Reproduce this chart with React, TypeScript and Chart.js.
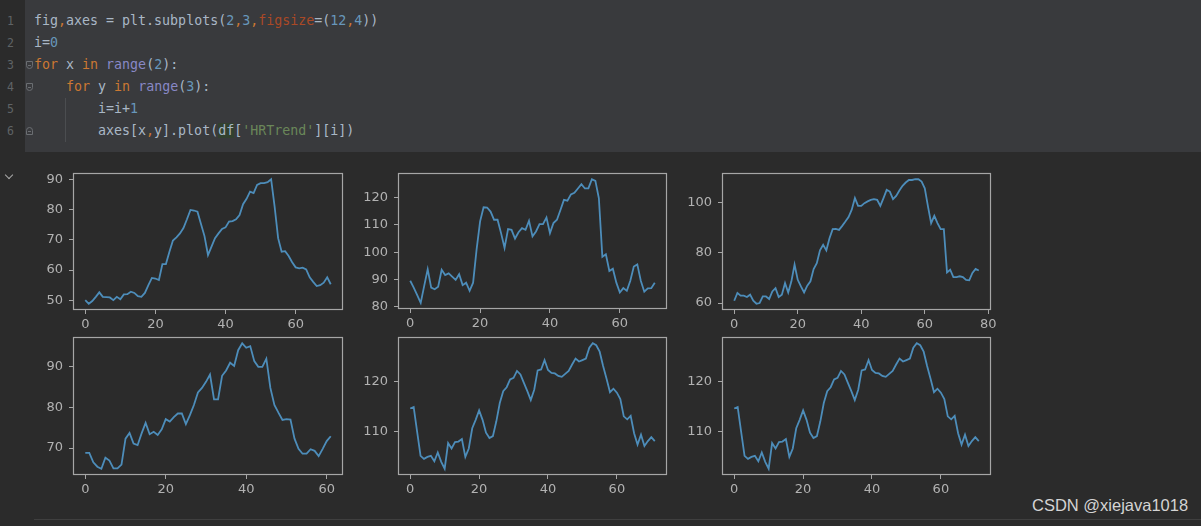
import React, { useEffect, useRef } from "react";
import { Chart, registerables } from "chart.js";

Chart.register(...registerables);

// ---------- data ----------
const hr1 = [50, 48.8, 49.7, 51.1, 52.6, 51.1, 51, 50.9, 50, 51.1, 50.3, 51.9, 52, 52.8, 52.4, 51.3, 51.1, 52.4, 55, 57.4, 57.2, 56.7, 62, 62, 66.1, 69.8, 70.9, 72.2, 74, 76.9, 80, 79.8, 79.4, 75.3, 71.3, 65, 67.8, 70.6, 72.2, 73.7, 74.2, 76.1, 76.3, 76.9, 78.3, 81.9, 83.7, 86.1, 85.6, 88.3, 88.9, 88.9, 89.2, 90.2, 81.1, 70.6, 66.1, 66.3, 64.7, 62.6, 60.9, 60.6, 60.8, 60.2, 57.6, 56.1, 54.7, 55, 55.8, 57.6, 55.3];
const hr2 = [89.5, 87, 84.2, 81.4, 87.6, 93.7, 87, 86.4, 87.3, 93.5, 91.6, 92.2, 91, 89.8, 91.9, 87.9, 88.8, 85.8, 88.8, 101, 111.3, 116.5, 116.4, 114.9, 111.9, 111.9, 107, 101.6, 108.5, 108.2, 105, 107.3, 108.8, 108.2, 111.5, 105.8, 107.6, 110.3, 110.3, 112.7, 107, 110.7, 111.9, 115.5, 119.2, 118.9, 121.2, 121.8, 123.4, 125, 123.4, 123.4, 126.8, 126.2, 119.8, 98.3, 99.2, 93.1, 93.9, 88.8, 85.2, 86.8, 85.8, 89.5, 94.7, 95.5, 89.5, 85.5, 86.7, 86.8, 88.8];
const hr3 = [60.9, 64, 62.9, 62.9, 62.4, 63.3, 60.9, 59.7, 60, 62.6, 62.6, 61.6, 64.6, 65.9, 62.4, 63.3, 67.9, 64.2, 68.6, 75.2, 69.2, 66.6, 64.2, 66.9, 68.6, 73.5, 75.8, 80.9, 83.1, 80.9, 85.7, 89.3, 89.4, 89, 90.6, 92.3, 94.1, 97, 101.6, 98.5, 98.5, 99.6, 100.3, 100.9, 101.2, 100.9, 98.5, 101.6, 104.9, 104.2, 101.2, 102.5, 104.6, 106.5, 107.8, 108.8, 108.8, 109.1, 109.1, 108.2, 105.5, 98.3, 91.7, 94.6, 91.7, 89.3, 89.3, 72.1, 73.2, 70.3, 70.3, 70.6, 70.3, 69.2, 69, 71.9, 73.5, 72.9];
const hr4 = [68.8, 68.8, 66.5, 65.4, 64.9, 67.6, 66.9, 65, 65, 65.9, 72.3, 73.7, 71.1, 70.7, 73.6, 76.2, 73.4, 74, 73.2, 74.6, 77.1, 76.5, 77.6, 78.5, 78.5, 75.9, 78.1, 80.6, 83.7, 84.8, 86.3, 88.1, 82, 82, 87.8, 89.1, 91, 90.2, 94.1, 95.8, 94.7, 95.1, 91.4, 90, 90, 92, 84.8, 80.6, 78.7, 76.9, 77.1, 77, 72.3, 69.8, 68.6, 68.6, 69.7, 69.3, 68, 69.8, 71.7, 72.9];
const hr5 = [114.6, 114.9, 109.9, 105, 104.4, 104.8, 105, 103.9, 105.7, 103.8, 102.4, 107.6, 106.5, 107.8, 107.9, 108.4, 104.8, 106.5, 110.6, 112.3, 114.2, 112.3, 109.7, 108.6, 109, 112, 115.7, 118.1, 118.9, 120.5, 120.8, 122.2, 121.5, 119.8, 118.1, 116.3, 118.4, 122.3, 122.5, 124.4, 122.4, 121.8, 121.7, 121.2, 121, 121.6, 122.2, 123.5, 124.7, 124.1, 124.4, 124.7, 126.9, 127.8, 127.4, 126.1, 123.2, 120.6, 117.9, 118.6, 117.8, 116.5, 113, 112.4, 113.1, 109.6, 107.3, 109.3, 107, 108, 108.8, 108];
const hr6 = hr5;

const xTicks1 = [0, 20, 40, 60];
const xTicks2 = [0, 20, 40, 60];
const xTicks3 = [0, 20, 40, 60, 80];
const xTicks4 = [0, 20, 40, 60];
const xTicks5 = [0, 20, 40, 60];
const xTicks6 = [0, 20, 40, 60];

const yTicks1 = [50, 60, 70, 80, 90];
const yTicks2 = [80, 90, 100, 110, 120];
const yTicks3 = [60, 80, 100];
const yTicks4 = [70, 80, 90];
const yTicks5 = [110, 120];
const yTicks6 = [110, 120];

// ---------- styles ----------
const BG = "#2b2b2b";
const LINE = "#4d8dba";
const FRAME = "#a6a6a6";
const TICKTXT = "#b2b2b2";

const framePlugin = {
  id: "frame",
  afterDraw(chart: any) {
    const { ctx, chartArea } = chart;
    ctx.save();
    ctx.strokeStyle = FRAME;
    ctx.lineWidth = 1.2;
    ctx.strokeRect(
      Math.round(chartArea.left) + 0.5,
      Math.round(chartArea.top) + 0.5,
      Math.round(chartArea.right - chartArea.left) - 1,
      Math.round(chartArea.bottom - chartArea.top) - 1
    );
    ctx.restore();
  },
};

const PADL = 50;
const PADT = 20;
const PADR = 20;
const PADB = 28;

function MiniChart(props: {
  fx: number; fy: number; fw: number; fh: number;
  data: number[]; xTicks: number[]; yTicks: number[];
}) {
  const ref = useRef<HTMLCanvasElement | null>(null);
  const { fx, fy, fw, fh, data, xTicks, yTicks } = props;
  const cw = fw + PADL + PADR;
  const ch = fh + PADT + PADB;

  useEffect(() => {
    if (!ref.current) return;
    const n = data.length - 1;
    const dmin = Math.min(...data);
    const dmax = Math.max(...data);
    const span = dmax - dmin;
    const chart = new Chart(ref.current, {
      type: "line",
      data: {
        labels: data.map((_, i) => i),
        datasets: [
          {
            data: data.map((v, i) => ({ x: i, y: v })),
            borderColor: LINE,
            borderWidth: 1.8,
            pointRadius: 0,
            tension: 0,
            fill: false,
          },
        ],
      },
      options: {
        animation: false,
        responsive: false,
        maintainAspectRatio: false,
        devicePixelRatio: 1,
        layout: { padding: { left: 0, top: PADT, right: PADR, bottom: 0 } },
        plugins: { legend: { display: false }, tooltip: { enabled: false } },
        scales: {
          x: {
            type: "linear",
            min: -0.05 * n,
            max: n * 1.05,
            afterBuildTicks: (scale: any) => {
              scale.ticks = xTicks.map((v) => ({ value: v }));
            },
            afterFit: (scale: any) => {
              scale.height = PADB;
            },
            grid: {
              display: true,
              drawOnChartArea: false,
              drawTicks: true,
              tickLength: 4,
              tickColor: FRAME,
              tickWidth: 1,
            },
            border: { display: false },
            ticks: {
              autoSkip: false,
              maxRotation: 0,
              padding: 3,
              color: TICKTXT,
              font: { family: "'DejaVu Sans'", size: 13 },
              callback: (v: any) => String(v),
            },
          },
          y: {
            type: "linear",
            min: dmin - 0.05 * span,
            max: dmax + 0.05 * span,
            afterBuildTicks: (scale: any) => {
              scale.ticks = yTicks.map((v) => ({ value: v }));
            },
            afterFit: (scale: any) => {
              scale.width = PADL;
            },
            grid: {
              display: true,
              drawOnChartArea: false,
              drawTicks: true,
              tickLength: 4,
              tickColor: FRAME,
              tickWidth: 1,
            },
            border: { display: false },
            ticks: {
              autoSkip: false,
              padding: 6,
              color: TICKTXT,
              font: { family: "'DejaVu Sans'", size: 13 },
              callback: (v: any) => String(v),
            },
          },
        },
      },
      plugins: [framePlugin],
    } as any);
    return () => chart.destroy();
  }, [data, xTicks, yTicks]);

  return (
    <canvas
      ref={ref}
      width={cw}
      height={ch}
      style={{ position: "absolute", left: fx - PADL, top: fy - PADT, width: cw, height: ch }}
    />
  );
}

// ---------- code cell ----------
const C = {
  txt: "#a9b7c6",
  kw: "#cc7832",
  num: "#6897bb",
  bi: "#8888c6",
  arg: "#aa4926",
  str: "#6a8759",
};

type Seg = [string, string, string?];
const codeLines: Seg[][] = [
  [["fig", C.txt], [",", C.kw], ["axes = plt.subplots(", C.txt], ["2", C.num], [",", C.kw], ["3", C.num], [",", C.kw], ["figsize", C.arg], ["=(", C.txt], ["12", C.num], [",", C.kw], ["4", C.num], ["))", C.txt]],
  [["i=", C.txt], ["0", C.num]],
  [["for", C.kw], [" x ", C.txt], ["in", C.kw], [" ", C.txt], ["range", C.bi], ["(", C.txt], ["2", C.num], ["):", C.txt]],
  [["    ", C.txt], ["for", C.kw], [" y ", C.txt], ["in", C.kw], [" ", C.txt], ["range", C.bi], ["(", C.txt], ["3", C.num], ["):", C.txt]],
  [["        i=i+", C.txt], ["1", C.num]],
  [["        axes[x", C.txt], [",", C.kw], ["y].plot(", C.txt], ["df", C.txt, "#32412f"], ["[", C.txt], ["'HRTrend'", C.str], ["][i])", C.txt]],
];

function FoldMark({ top, kind }: { top: number; kind: "open" | "close" }) {
  return (
    <div
      style={{
        position: "absolute",
        left: 26,
        top,
        width: 7,
        height: 8,
        border: "1px solid #6b6e72",
        borderRadius: kind === "open" ? "0 0 4px 4px" : "4px 4px 0 0",
        boxSizing: "border-box",
      }}
    >
      <div style={{ position: "absolute", left: 1, top: 3, width: 3, height: 1, background: "#6b6e72" }} />
    </div>
  );
}

export default function App() {
  useEffect(() => {
    document.body.style.margin = "0";
    document.body.style.background = BG;
  }, []);

  const colX = [73, 398, 722];
  const colW = [270, 269, 269];
  const rowY = [173, 337];
  const FH = 137;

  return (
    <div style={{ position: "absolute", left: 0, top: 0, width: 1201, height: 526, background: BG, overflow: "hidden" }}>
      {/* code cell */}
      <div style={{ position: "absolute", left: 25, top: 0, width: 1176, height: 152, background: "#393a3d" }} />
      <div style={{ position: "absolute", left: 65, top: 98, width: 1, height: 44, background: "#4b4d50" }} />
      {codeLines.map((segs, li) => (
        <React.Fragment key={li}>
          <div
            style={{
              position: "absolute",
              left: 0,
              width: 14,
              top: 10 + li * 22,
              height: 22,
              lineHeight: "22px",
              textAlign: "right",
              fontFamily: "'DejaVu Sans Mono'",
              fontSize: 11.5,
              color: "#5f6366",
            }}
          >
            {li + 1}
          </div>
          <div
            style={{
              position: "absolute",
              left: 34,
              top: 10 + li * 22,
              height: 22,
              lineHeight: "22px",
              whiteSpace: "pre",
              fontFamily: "'DejaVu Sans Mono'",
              fontSize: 13.3,
            }}
          >
            {segs.map(([t, c, bg], si) => (
              <span key={si} style={{ color: c, background: bg }}>
                {t}
              </span>
            ))}
          </div>
        </React.Fragment>
      ))}
      <FoldMark top={61} kind="open" />
      <FoldMark top={83} kind="open" />
      <FoldMark top={127} kind="close" />

      {/* output collapse chevron */}
      <div
        style={{
          position: "absolute",
          left: 6,
          top: 172,
          width: 5,
          height: 5,
          borderRight: "1.5px solid #a8a8a8",
          borderBottom: "1.5px solid #a8a8a8",
          transform: "rotate(45deg)",
        }}
      />

      <MiniChart fx={colX[0]} fy={rowY[0]} fw={colW[0]} fh={FH} data={hr1} xTicks={xTicks1} yTicks={yTicks1} />
      <MiniChart fx={colX[1]} fy={rowY[0]} fw={colW[1]} fh={FH - 1} data={hr2} xTicks={xTicks2} yTicks={yTicks2} />
      <MiniChart fx={colX[2]} fy={rowY[0]} fw={colW[2]} fh={FH} data={hr3} xTicks={xTicks3} yTicks={yTicks3} />
      <MiniChart fx={colX[0]} fy={rowY[1]} fw={colW[0]} fh={FH + 1} data={hr4} xTicks={xTicks4} yTicks={yTicks4} />
      <MiniChart fx={colX[1]} fy={rowY[1]} fw={colW[1]} fh={FH + 1} data={hr5} xTicks={xTicks5} yTicks={yTicks5} />
      <MiniChart fx={colX[2]} fy={rowY[1]} fw={colW[2]} fh={FH + 1} data={hr6} xTicks={xTicks6} yTicks={yTicks6} />

      {/* bottom separator and watermark */}
      <div style={{ position: "absolute", left: 34, top: 519, width: 1167, height: 1, background: "#3f3f3f" }} />
      <div
        style={{
          position: "absolute",
          left: 1032,
          top: 495,
          height: 20,
          lineHeight: "20px",
          fontFamily: "'Liberation Sans'",
          fontSize: 16.5,
          color: "#d4d4d4",
          whiteSpace: "nowrap",
        }}
      >
        CSDN @xiejava1018
      </div>
    </div>
  );
}
